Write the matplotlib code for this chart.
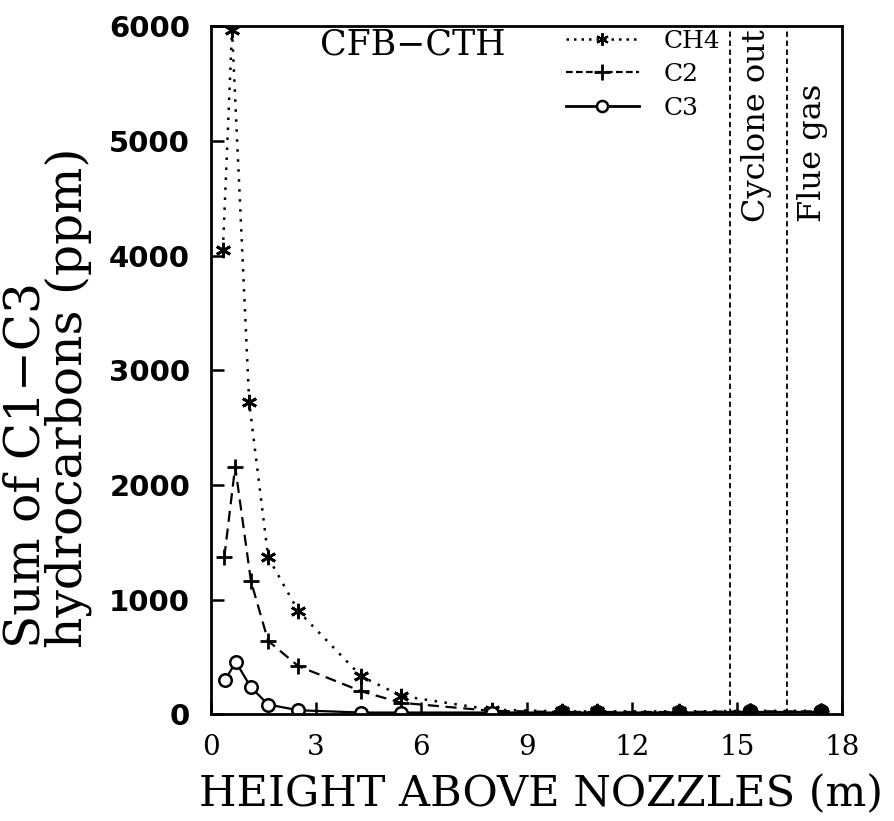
import matplotlib
matplotlib.use("Agg")
import matplotlib.pyplot as plt
from matplotlib.lines import Line2D

# height above nozzles (m) and concentrations (ppm)
height_ch4 = [0.34, 0.6, 1.09, 1.63, 2.49, 4.29, 5.43, 8.0, 10.0, 11.0, 13.35, 15.37, 17.4]
ch4 = [4050, 5970, 2720, 1370, 900, 330, 160, 40, 25, 25, 25, 30, 30]

height_c2 = [0.38, 0.69, 1.14, 1.63, 2.49, 4.29, 5.43, 8.0, 10.0, 11.0, 13.35, 15.37, 17.4]
c2 = [1370, 2160, 1160, 640, 420, 200, 100, 30, 20, 20, 20, 25, 25]

height_c3 = [0.4, 0.71, 1.14, 1.63, 2.49, 4.29, 5.43, 8.0, 10.0, 11.0, 13.35, 15.37, 17.4]
c3 = [300, 455, 235, 85, 35, 15, 15, 15, 15, 15, 15, 20, 20]

# points past the riser where all three species overlap
height_far = [10.0, 11.0, 13.35, 15.37, 17.4]
far = [20, 20, 20, 25, 25]

section_x = [14.8, 16.42]
section_names = ["Cyclone out", "Flue gas"]
section_label_x = [15.55, 17.15]

xticks = [0, 3, 6, 9, 12, 15, 18]
yticks = [0, 1000, 2000, 3000, 4000, 5000, 6000]

serif = "DejaVu Serif"

fig = plt.figure(figsize=(8.94, 8.21), dpi=100)
ax = fig.add_axes([0.236, 0.13, 0.706, 0.838])

ax.plot(height_ch4, ch4, color="black", linestyle=(0, (1, 3)), linewidth=1.8,
        marker=(6, 2, 0), markersize=11, markeredgewidth=2)
ax.plot(height_c2, c2, color="black", linestyle=(0, (5, 3)), linewidth=1.6,
        marker="+", markersize=12, markeredgewidth=2)
ax.plot(height_c3, c3, color="black", linestyle="-", linewidth=1.6,
        marker="o", markersize=9, markerfacecolor="white", markeredgewidth=1.8)
ax.plot(height_far, far, color="black", linestyle="none",
        marker="o", markersize=10, zorder=5)

for xv in section_x:
    ax.axvline(xv, color="black", linestyle=(0, (3, 2)), linewidth=1.3)

for name, xv in zip(section_names, section_label_x):
    ax.text(xv, 4290, name, rotation=90, ha="center", va="bottom",
            fontsize=23, family=serif)

ax.text(5.76, 5990, "CFB\u2212CTH", ha="center", va="top", fontsize=25, family=serif)

handles = [
    Line2D([], [], color="black", linestyle=(0, (1, 2)), linewidth=1.8,
           marker=(6, 2, 0), markersize=9, markeredgewidth=1.5),
    Line2D([], [], color="black", linestyle=(0, (3, 1.5)), linewidth=1.6,
           marker="+", markersize=12, markeredgewidth=2),
    Line2D([], [], color="black", linestyle="-", linewidth=2,
           marker="o", markersize=8, markerfacecolor="white", markeredgewidth=1.8),
]
leg = ax.legend(handles, ["CH4", "C2", "C3"], loc="upper right",
                bbox_to_anchor=(0.807, 0.995), frameon=False, handlelength=2.9,
                handletextpad=1.0, labelspacing=0.42, borderpad=0,
                borderaxespad=0, prop={"family": serif, "size": 18})

ax.set_xlim(0, 18)
ax.set_ylim(0, 6000)
ax.set_xticks(xticks)
ax.set_yticks(yticks)
ax.set_xticklabels([str(t) for t in xticks], family=serif, fontsize=20)
ax.set_yticklabels([str(t) for t in yticks], family="DejaVu Sans",
                   fontweight="bold", fontsize=21)
ax.tick_params(direction="in", length=9, width=1.8, top=False, right=False)
ax.tick_params(axis="x", pad=14)
ax.tick_params(axis="y", pad=15)
for s in ax.spines.values():
    s.set_linewidth(2)

ax.set_xlabel("HEIGHT ABOVE NOZZLES (m)", family=serif, fontsize=31)
ax.xaxis.set_label_coords(0.523, -0.086)
ax.set_ylabel("Sum of C1\u2212C3\nhydrocarbons (ppm)", family=serif, fontsize=35,
              linespacing=0.86, multialignment="left")
ax.yaxis.set_label_coords(-0.188, 0.46)

fig.savefig("out.png", dpi=100)
